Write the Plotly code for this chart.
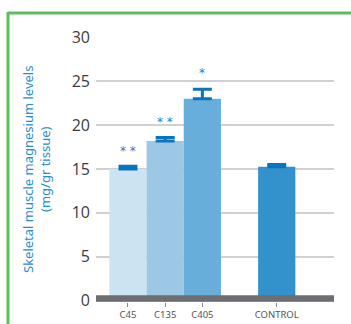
import plotly.graph_objects as go

# Skeletal muscle magnesium levels per group
groups = ["C45", "C135", "C405", "CONTROL"]
means = [15.0, 18.2, 23.0, 15.25]
errors = [0.3, 0.4, 1.1, 0.25]
stars = ["* *", "* *", "*", ""]
bar_colors = ["#cce3f1", "#9dc8e5", "#68aedb", "#3391cc"]

y_ticks = [0, 5, 10, 15, 20, 25, 30]

# bar slots: three dose groups side by side, a gap, then the control
x_pos = [0, 1, 2, 4]

W, H = 351, 324
L, R, T, B = 96, 17, 37, 22
pw, ph = W - L - R, H - T - B

def px_x(p):
    return (p - L) / pw

def px_y(p):
    return (H - B - p) / ph

fig = go.Figure()
fig.add_trace(go.Bar(
    x=x_pos, y=means, width=1.0,
    marker=dict(color=bar_colors, line=dict(width=0)),
    error_y=dict(type="data", array=errors, symmetric=False,
                 arrayminus=[0] * len(errors),
                 color="#0a74bd", thickness=3, width=9.5),
    hoverinfo="skip",
))

for xp, m, e, s in zip(x_pos, means, errors, stars):
    if s:
        fig.add_annotation(
            x=xp, y=m + e + 1.8, text=s, showarrow=False,
            font=dict(family="DejaVu Sans", size=12, color="#1f80c8"),
            xanchor="center", yanchor="middle",
        )

# thick baseline along zero
fig.add_shape(type="rect", xref="paper", yref="y",
              x0=0, x1=1, y0=-0.15, y1=0.6,
              fillcolor="#6d6e71", line=dict(width=0), layer="above")

# green frame (top and left edges)
fig.add_shape(type="line", xref="paper", yref="paper",
              x0=px_x(8), x1=px_x(W + 5), y0=px_y(13), y1=px_y(13),
              line=dict(color="#5dbd5a", width=3))
fig.add_shape(type="line", xref="paper", yref="paper",
              x0=px_x(8), x1=px_x(8), y0=px_y(12), y1=px_y(H + 5),
              line=dict(color="#5dbd5a", width=3))

fig.add_annotation(
    xref="paper", yref="paper", x=px_x(36.5), y=0.5,
    text="Skeletal muscle magnesium levels<br>(mg/gr tissue)",
    textangle=-90, showarrow=False, xanchor="center", yanchor="middle",
    font=dict(family="Noto Sans", size=13, color="#2a8dd2"),
)

fig.update_layout(
    width=W, height=H,
    margin=dict(l=L, r=R, t=T, b=B, pad=0, autoexpand=False),
    paper_bgcolor="white", plot_bgcolor="white",
    showlegend=False,
    xaxis=dict(
        range=[-0.86, 5.54], tickvals=x_pos, ticktext=groups,
        showgrid=False, zeroline=False, showline=False,
        ticks="outside", ticklen=4, tickwidth=1, tickcolor="#8a8a8a",
        tickfont=dict(family="Noto Sans", size=9.5, color="#555555"),
        automargin=False, fixedrange=True,
    ),
    yaxis=dict(
        range=[-0.171, 30.057], tickvals=y_ticks,
        showgrid=True, gridcolor="#d0d0d0", gridwidth=2,
        zeroline=False, showline=False, ticks="",
        ticklabelstandoff=5,
        tickfont=dict(family="Open Sans", size=16, color="#3c3c3c"),
        automargin=False, fixedrange=True,
    ),
)

fig.write_html("out.html", config={"displayModeBar": False})
